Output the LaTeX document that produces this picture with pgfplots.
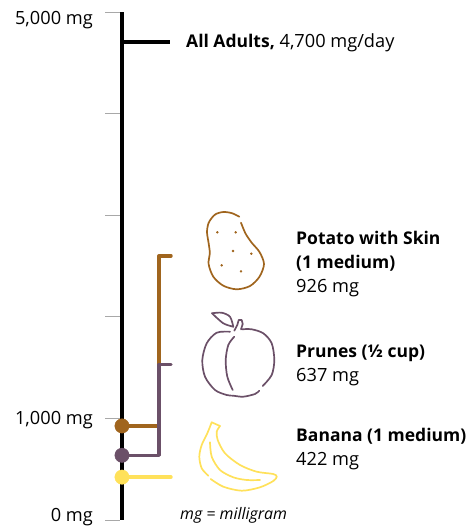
\documentclass[border=0pt]{standalone}
\usepackage{fontspec}
\setmainfont{Open Sans}
\usepackage{pgfplots}
\pgfplotsset{compat=1.18}
\definecolor{pot}{HTML}{A0651E}
\definecolor{pru}{HTML}{6B5068}
\definecolor{ban}{HTML}{FFE15A}
\definecolor{tk}{HTML}{A8A8A8}
\pgfplotsset{base/.style={scale only axis,width=468pt,height=526pt,hide axis,clip=false,xmin=0,xmax=468}}
\newcommand{\fs}{\fontsize{18.2}{20}\selectfont}
\newcommand{\fb}{\fontsize{17.5}{20}\selectfont\bfseries}
\newcommand{\lbl}[3]{\node[anchor=base west,inner sep=0pt,font=\fs] at (axis cs:#1,#2) {#3};}
\begin{document}
\begin{tikzpicture}
% pixel-coordinate layer: icons and text
\begin{axis}[base,ymin=0,ymax=526,y dir=reverse]
\path (axis cs:0,0) rectangle (axis cs:468,526);
\addplot[pot,line width=1.7pt,smooth,line cap=round] coordinates {(239.3,216.7)(232,213.2)(223.3,212)(215,214.6)(208.8,222.5)(207,232)(208.6,243)(209.8,253)(208.6,264)(213.3,276.7)(223.3,285.7)(236.7,289.3)(250,286)(259.5,276.7)(264,264)(259.5,252)(251.7,242.7)(245.5,233.5)(241,222.7)};
\addplot[pot,only marks,mark=*,mark size=1pt] coordinates {(217.3,232.3)(235.7,232.3)(233,251)(251.3,253.7)(221.7,265.3)(241,271.3)};
\addplot[pru,line width=1.7pt,smooth,line cap=round] coordinates {(230,331.7)(216.7,332.7)(206.7,343.3)(202.3,360)(205,376.7)(215,390)(226.7,395)(233.3,395.7)(243.3,396.7)(255,394)(259.3,390.7)};
\addplot[pru,line width=1.7pt,smooth,line cap=round] coordinates {(262.7,386)(271.7,375)(274.3,360)(271.7,343.3)(263.3,333.3)(251.7,329.3)(241.7,329.3)};
\addplot[pru,line width=1.7pt,line join=round,line cap=round] coordinates {(234.3,330.7)(237.3,325)(238.7,320)(241.7,320)(242.7,324)(241,329.3)};
\addplot[pru,line width=1.7pt,smooth,line cap=round] coordinates {(212,313.3)(221.7,312.7)(230,316.7)(233.3,326.7)};
\addplot[pru,line width=1.7pt,smooth,line cap=round] coordinates {(233.3,326.7)(223.3,323.3)(212,313.3)};
\addplot[pru,line width=1.7pt,smooth,line cap=round] coordinates {(234.3,336.7)(228.3,345)(225.7,360)(227.3,376.7)(232.7,390)};
\addplot[ban,line width=1.7pt,smooth,line cap=round] coordinates {(211.7,422.3)(207.3,433.3)(201.7,445)(199.3,456.7)(201.7,468.3)(208.3,475.7)};
\addplot[ban,line width=1.7pt,smooth,line cap=round] coordinates {(210.7,479)(223.3,486.7)(241.7,490.7)(260,487.3)(273.3,481)(276.7,476.7)(273.3,474)(256.7,471.7)(240,465)(225,453.3)(217.7,440)(216.7,431.7)(220,426)};
\addplot[ban,line width=1.7pt,line cap=round] coordinates {(220,426)(211.7,422.3)};
\addplot[ban,line width=1.7pt,smooth,line cap=round] coordinates {(210,442.3)(211.7,456.7)(220,470)(233.3,477.3)(246.7,480)(260,480)};
\node[anchor=base east,inner sep=0pt,font=\fs] at (axis cs:93,25) {5,000 mg};
\node[anchor=base east,inner sep=0pt,font=\fs] at (axis cs:93,424) {1,000 mg};
\node[anchor=base east,inner sep=0pt,font=\fs] at (axis cs:93,521) {0 mg};
\lbl{186}{48}{{\fb All Adults,} 4,700 mg/day}
\lbl{296}{244}{{\fb Potato with Skin}}
\lbl{296}{268}{{\fb (1 medium)}}
\lbl{296}{292}{926 mg}
\lbl{296}{357}{{\fb Prunes (½ cup)}}
\lbl{296}{381}{637 mg}
\lbl{296}{441}{{\fb Banana (1 medium)}}
\lbl{296}{465}{422 mg}
\node[anchor=base west,inner sep=0pt,font=\fontsize{15.9}{17}\selectfont\itshape] at (axis cs:180,519) {mg = milligram};
\end{axis}
% data layer: y in mg
\begin{axis}[base,ymin=-59.06,ymax=5118.1]
\addplot[tk,line width=0.9pt] coordinates {(105,5000)(120,5000)};
\addplot[tk,line width=0.9pt] coordinates {(105,4000)(120,4000)};
\addplot[tk,line width=0.9pt] coordinates {(105,3000)(120,3000)};
\addplot[tk,line width=0.9pt] coordinates {(105,2000)(120,2000)};
\addplot[tk,line width=0.9pt] coordinates {(105,1000)(120,1000)};
\addplot[tk,line width=0.9pt] coordinates {(105,0)(120,0)};
\addplot[black,line width=4.8pt] coordinates {(122,0)(122,5000)};
\addplot[black,line width=4pt] coordinates {(122,4700)(170,4700)};
\addplot[pot,line width=3.4pt,line join=round,line cap=round] coordinates {(122,926)(159,926)(159,2600)(171,2600)};
\addplot[pru,line width=3.4pt,line join=round,line cap=round] coordinates {(122,637)(159,637)(159,1530)(171,1530)};
\addplot[ban,line width=3.4pt,line cap=round] coordinates {(122,422)(171,422)};
\addplot[pot,only marks,mark=*,mark size=7.2pt,mark options={draw=none}] coordinates {(122,926)};
\addplot[pru,only marks,mark=*,mark size=7.2pt,mark options={draw=none}] coordinates {(122,637)};
\addplot[ban,only marks,mark=*,mark size=7.2pt,mark options={draw=none}] coordinates {(122,422)};
\end{axis}
\end{tikzpicture}
\end{document}
